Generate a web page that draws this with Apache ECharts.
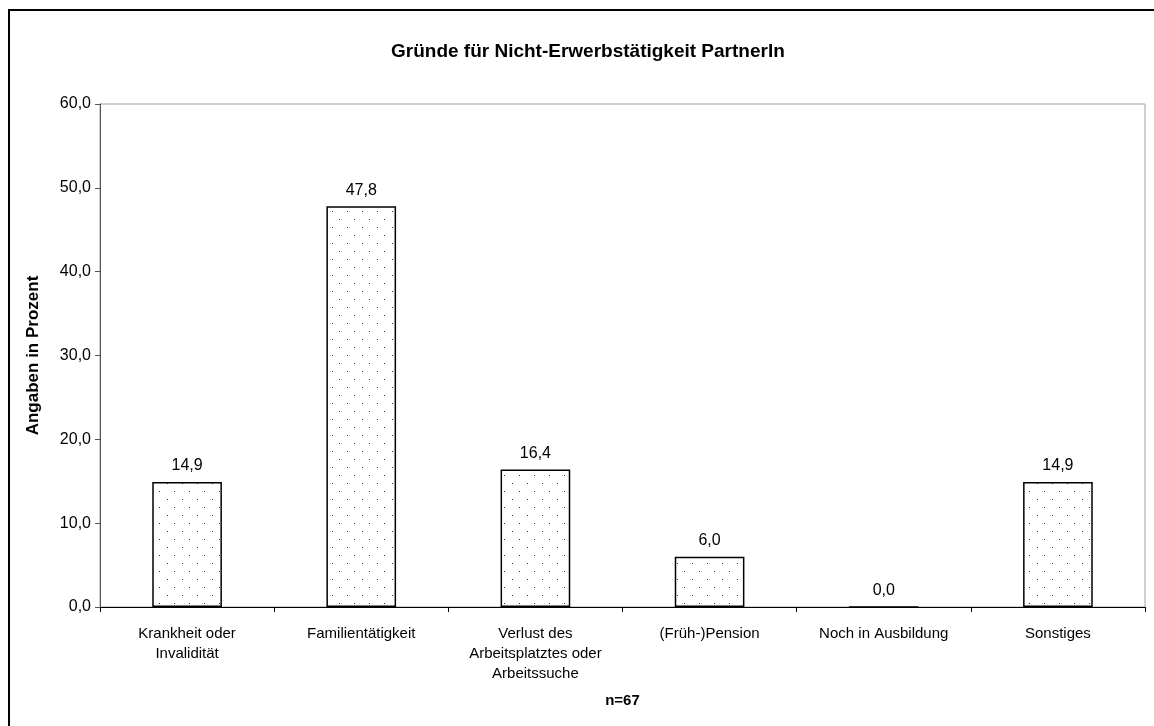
<!DOCTYPE html>
<html><head><meta charset="utf-8">
<script src="https://cdn.jsdelivr.net/npm/echarts@6/dist/echarts.min.js"></script>
<style>html,body{margin:0;padding:0;background:#fff}#c{width:1154px;height:726px}</style>
</head><body><div id="c"></div>
<script>
const categories = ["Krankheit oder\nInvalidität", "Familientätigkeit", "Verlust des\nArbeitsplatztes oder\nArbeitssuche", "(Früh-)Pension", "Noch in Ausbildung", "Sonstiges"];
const values = [14.9, 47.8, 16.4, 6.0, 0.0, 14.9];
const titleText = "Gründe für Nicht-Erwerbstätigkeit PartnerIn";
const yAxisName = "Angaben in Prozent";
const xAxisName = "n=67";

const pc = document.createElement('canvas');
pc.width = 15; pc.height = 16;
const pctx = pc.getContext('2d');
pctx.fillStyle = '#fff'; pctx.fillRect(0,0,15,16);
pctx.fillStyle = '#333';
pctx.fillRect(2,3,1,1);
pctx.fillRect(9,11,1,1);

const fmt = v => Number(v).toFixed(1).replace('.', ',');
const font = '"Liberation Sans", Arial, sans-serif';
const chart = echarts.init(document.getElementById('c'), null, {renderer:'canvas'});
chart.setOption({
  backgroundColor:'#fff',
  animation:false,
  textStyle:{fontFamily:font},
  title:{text:titleText, left:386, top:37, textStyle:{fontFamily:font, fontSize:19, fontWeight:'bold', color:'#000'}},
  graphic:[
    {type:'rect', shape:{x:9, y:10, width:1160, height:740}, style:{fill:'none', stroke:'#000', lineWidth:2}, silent:true}
  ],
  grid:{left:100, top:104, right:9, bottom:119, show:true, borderColor:'#a0a0a0', borderWidth:1},
  xAxis:{type:'category', data:categories,
    name:xAxisName, nameLocation:'middle', nameGap:86,
    nameTextStyle:{fontSize:15, fontWeight:'bold', color:'#000', fontFamily:font},
    axisLine:{lineStyle:{color:'#000', width:1}},
    axisTick:{show:true, length:5, lineStyle:{color:'#000'}},
    axisLabel:{interval:0, fontSize:15, color:'#000', margin:17, lineHeight:20, fontFamily:font}
  },
  yAxis:{type:'value', min:0, max:60, interval:10,
    name:yAxisName, nameLocation:'middle', nameGap:58, nameRotate:90,
    nameTextStyle:{fontSize:17, fontWeight:'bold', color:'#000', fontFamily:font},
    axisLine:{show:true, lineStyle:{color:'#555', width:1}},
    axisTick:{show:true, length:5, lineStyle:{color:'#555'}},
    splitLine:{show:false},
    axisLabel:{fontSize:16, color:'#000', margin:9, formatter:fmt, fontFamily:font}
  },
  series:[{type:'bar', data:values, barWidth:'40%',
    itemStyle:{color:{image:pc, repeat:'repeat'}, borderColor:'#000', borderWidth:1.5},
    label:{show:true, position:'top', distance:8, fontSize:16, color:'#000', formatter:p=>fmt(p.value), fontFamily:font}
  }]
});
</script></body></html>
